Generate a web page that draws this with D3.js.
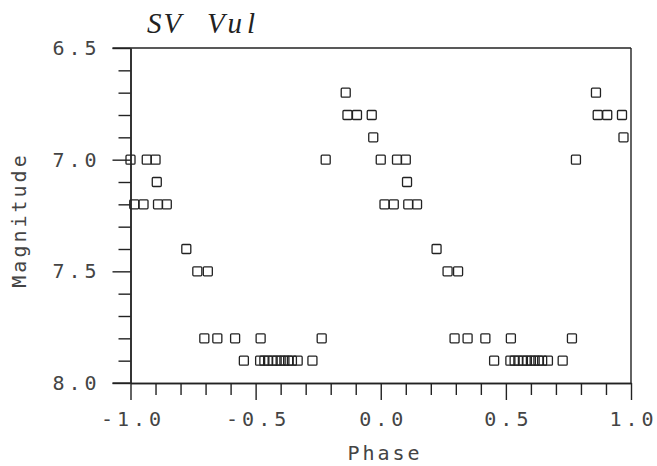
<!DOCTYPE html>
<html>
<head>
<meta charset="utf-8">
<script src="https://cdn.jsdelivr.net/npm/d3@7"></script>
<style>
  body { margin: 0; background: #fff; }
</style>
</head>
<body>
<script>
'use strict';

// phase of each observation (the light curve is shown over two cycles)
const phase = [
  -1.000, -0.985, -0.948, -0.935, -0.900, -0.895, -0.890, -0.855,
  -0.777, -0.733, -0.705, -0.691, -0.653, -0.582, -0.547, -0.482,
  -0.480, -0.465, -0.450, -0.432, -0.416, -0.400, -0.385, -0.370,
  -0.355, -0.332, -0.273, -0.236, -0.220, -0.140, -0.133, -0.095,
  -0.036, -0.030,
  0.000, 0.015, 0.052, 0.065, 0.100, 0.105, 0.110, 0.145,
  0.223, 0.267, 0.295, 0.309, 0.347, 0.418, 0.453, 0.518,
  0.520, 0.535, 0.550, 0.568, 0.584, 0.600, 0.615, 0.630,
  0.645, 0.668, 0.727, 0.764, 0.780, 0.860, 0.867, 0.905,
  0.964, 0.970
];

// visual magnitude of each observation
const magnitude = [
  7.0, 7.2, 7.2, 7.0, 7.0, 7.1, 7.2, 7.2,
  7.4, 7.5, 7.8, 7.5, 7.8, 7.8, 7.9, 7.9,
  7.8, 7.9, 7.9, 7.9, 7.9, 7.9, 7.9, 7.9,
  7.9, 7.9, 7.9, 7.8, 7.0, 6.7, 6.8, 6.8,
  6.8, 6.9,
  7.0, 7.2, 7.2, 7.0, 7.0, 7.1, 7.2, 7.2,
  7.4, 7.5, 7.8, 7.5, 7.8, 7.8, 7.9, 7.9,
  7.8, 7.9, 7.9, 7.9, 7.9, 7.9, 7.9, 7.9,
  7.9, 7.9, 7.9, 7.8, 7.0, 6.7, 6.8, 6.8,
  6.8, 6.9
];

const xMajorTicks = [-1.0, -0.5, 0.0, 0.5, 1.0];
const xMinorTicks = [-0.9, -0.8, -0.7, -0.6, -0.4, -0.3, -0.2, -0.1,
                     0.1, 0.2, 0.3, 0.4, 0.6, 0.7, 0.8, 0.9];
const yMajorTicks = [6.5, 7.0, 7.5, 8.0];
const yMinorTicks = [6.6, 6.7, 6.8, 6.9, 7.1, 7.2, 7.3, 7.4,
                     7.6, 7.7, 7.8, 7.9];

const tickFont = '"DejaVu Sans Mono", monospace';
const ink = '#222';
const textInk = '#444';

const svg = d3.select('body')
  .append('svg')
  .attr('width', 657)
  .attr('height', 466);

const x = d3.scaleLinear().domain([-1, 1]).range([130.5, 631]);
const y = d3.scaleLinear().domain([6.5, 8.0]).range([48, 383]);

// minor ticks first (no labels)
svg.append('g')
  .attr('transform', `translate(0, ${y(8.0)})`)
  .call(d3.axisBottom(x).tickValues(xMinorTicks).tickSize(12).tickSizeOuter(0).tickFormat(''));

svg.append('g')
  .attr('transform', `translate(${x(-1)}, 0)`)
  .call(d3.axisLeft(y).tickValues(yMinorTicks).tickSize(12).tickSizeOuter(0).tickFormat(''));

// major ticks with labels
let xAxis = svg.append('g')
  .attr('transform', `translate(0, ${y(8.0)})`)
  .call(d3.axisBottom(x).tickValues(xMajorTicks).tickSize(17).tickSizeOuter(0)
    .tickPadding(12).tickFormat(d3.format('.1f')));

let yAxis = svg.append('g')
  .attr('transform', `translate(${x(-1)}, 0)`)
  .call(d3.axisLeft(y).tickValues(yMajorTicks).tickSize(18).tickSizeOuter(0)
    .tickPadding(12).tickFormat(d3.format('.1f')));

// d3.format uses a unicode minus, the original plot uses a hyphen
xAxis.selectAll('text').text(d => d3.format('.1f')(d).replace('\u2212', '-'));

svg.selectAll('.domain, .tick line')
  .attr('stroke', ink)
  .attr('stroke-width', 1.4);

svg.selectAll('.tick text')
  .attr('fill', textInk)
  .style('font-family', tickFont)
  .style('font-size', '20px')
  .style('letter-spacing', '4px');

xAxis.selectAll('.tick text').attr('dx', '2px');

// top and right frame lines
svg.append('line')
  .attr('x1', x(-1) - 18).attr('x2', x(1))
  .attr('y1', y(6.5)).attr('y2', y(6.5))
  .attr('stroke', ink).attr('stroke-width', 1.4);

svg.append('line')
  .attr('x1', x(1)).attr('x2', x(1))
  .attr('y1', y(6.5)).attr('y2', y(8.0))
  .attr('stroke', ink).attr('stroke-width', 1.4);

// extend bottom axis to the left major tick
svg.append('line')
  .attr('x1', x(-1) - 18).attr('x2', x(-1))
  .attr('y1', y(8.0)).attr('y2', y(8.0))
  .attr('stroke', ink).attr('stroke-width', 1.4);

// data points as open squares
const size = 9;
svg.append('g')
  .selectAll('rect')
  .data(d3.range(phase.length))
  .enter()
  .append('rect')
    .attr('x', i => x(phase[i]) - size / 2)
    .attr('y', i => y(magnitude[i]) - size / 2)
    .attr('width', size)
    .attr('height', size)
    .attr('rx', 1)
    .attr('fill', 'none')
    .attr('stroke', ink)
    .attr('stroke-width', 1.3);

// title, set in two words like the math italic original
let title = svg.append('text')
  .attr('y', 33)
  .style('font-family', '"Liberation Serif", serif')
  .style('font-style', 'italic')
  .style('font-size', '29px')
  .attr('fill', ink);

title.append('tspan').attr('x', 147).style('letter-spacing', '2px').text('SV');
title.append('tspan').attr('x', 207).style('letter-spacing', '5px').text('Vul');

svg.append('text')
  .attr('x', 385)
  .attr('y', 460)
  .attr('text-anchor', 'middle')
  .style('font-family', tickFont)
  .style('font-size', '20px')
  .style('letter-spacing', '3px')
  .attr('fill', textInk)
  .text('Phase');

svg.append('text')
  .attr('transform', 'translate(26, 220)rotate(-90)')
  .attr('text-anchor', 'middle')
  .style('font-family', tickFont)
  .style('font-size', '20px')
  .style('letter-spacing', '3px')
  .attr('fill', textInk)
  .text('Magnitude');
</script>
</body>
</html>
